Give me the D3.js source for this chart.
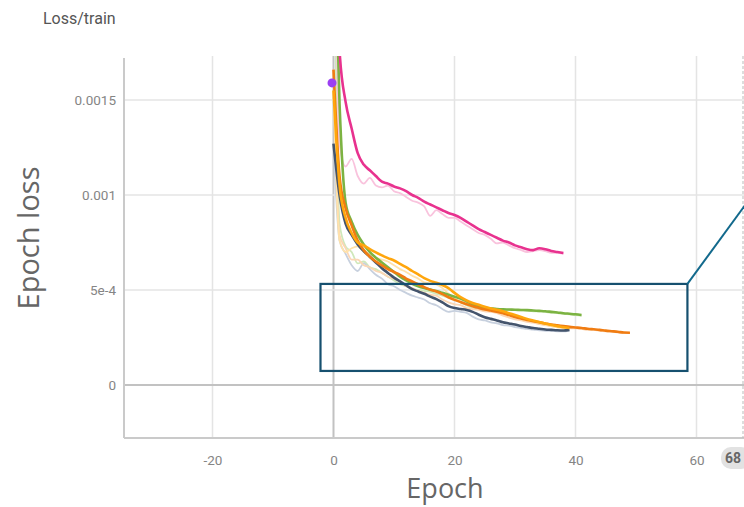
<!DOCTYPE html>
<html>
<head>
<meta charset="utf-8">
<script src="https://cdn.jsdelivr.net/npm/d3@7"></script>
<style>
  body { margin: 0; background: #fff; }
  svg { display: block; font-family: Roboto, "Noto Sans", sans-serif; }
  .grid { stroke: #e4e4e4; stroke-width: 1.5; }
  .zero { stroke: #c2c2c2; stroke-width: 2; }
  .frame { stroke: #cacaca; stroke-width: 2; }
  .tick-label { fill: #858585; font-size: 13.5px; }
</style>
</head>
<body>
<div class="container"></div>
<script>
const WIDTH = 744;
const HEIGHT = 507;

// epoch loss, in units of 1e-4, one value per epoch starting at epoch 0
const LOSS_SCALE = 1e-4;

var pinkSmooth = [30.0,17.6,14.9,13.5,12.2,11.6,11.3,11.0,10.7,10.6,10.45,10.35,10.2,10.0,9.85,9.65,9.5,9.35,9.2,9.05,8.95,8.8,8.6,8.4,8.2,8.05,7.9,7.75,7.6,7.5,7.35,7.25,7.15,7.1,7.2,7.15,7.05,7.0,6.95];
var pinkRaw = [30.0,12.7,11.5,11.9,11.0,10.6,10.9,10.5,10.4,10.5,10.2,10.1,9.9,9.7,9.6,9.4,8.9,9.2,9.0,8.8,8.8,8.6,8.4,8.2,8.0,7.9,7.7,7.45,7.5,7.35,7.2,7.1,7.0,7.05,7.1,7.05,6.95,6.95,6.9];

var slateSmooth = [12.7,10.0,8.5,7.9,7.4,7.05,6.75,6.45,6.15,5.9,5.65,5.45,5.25,5.05,4.92,4.8,4.65,4.52,4.35,4.15,4.05,4.0,3.95,3.85,3.7,3.57,3.48,3.4,3.3,3.24,3.18,3.1,3.05,3.0,2.96,2.92,2.9,2.88,2.87,2.9];
var slateRaw = [12.7,7.6,6.9,6.3,6.0,6.4,6.1,5.8,5.6,5.3,5.2,5.0,4.85,4.7,4.6,4.5,4.3,4.2,4.0,3.85,3.9,3.85,3.8,3.6,3.45,3.4,3.3,3.25,3.15,3.12,3.05,3.0,2.95,2.92,2.88,2.85,2.85,2.83,2.82,2.88];

var greenSmooth = [26.0,14.8,9.6,8.6,7.9,7.4,7.0,6.7,6.45,6.2,5.95,5.7,5.5,5.33,5.2,5.1,5.02,4.95,4.85,4.75,4.65,4.55,4.4,4.25,4.12,4.06,4.03,4.0,3.98,3.97,3.96,3.95,3.94,3.92,3.9,3.88,3.85,3.82,3.78,3.75,3.72,3.68];
var greenRaw = [26.0,8.5,7.3,7.0,6.4,6.5,6.2,6.1,5.9,5.7,5.5,5.3,5.2,5.05,5.0,4.95,4.9,4.8,4.7,4.6,4.5,4.35,4.2,4.05,4.0,3.98,3.99,3.95,3.96,3.94,3.95,3.93,3.92,3.88,3.88,3.85,3.8,3.78,3.74,3.72,3.68,3.64];

var orangeSmooth = [16.6,11.0,9.3,8.4,7.6,7.1,6.75,6.5,6.3,6.1,5.95,5.8,5.6,5.45,5.3,5.15,5.02,4.92,4.78,4.62,4.48,4.37,4.25,4.15,4.06,3.98,3.92,3.86,3.78,3.68,3.58,3.5,3.42,3.36,3.3,3.24,3.18,3.14,3.1,3.06,3.03,3.0,2.96,2.93,2.9,2.86,2.83,2.8,2.76,2.75];
var orangeRaw = [16.6,7.9,7.2,6.6,6.6,6.3,6.2,6.0,5.9,5.7,5.6,5.45,5.2,5.1,4.95,4.85,4.75,4.7,4.5,4.35,4.25,4.2,4.05,4.0,3.95,3.88,3.85,3.78,3.65,3.55,3.45,3.4,3.32,3.28,3.2,3.15,3.1,3.08,3.05,3.0,2.98,2.95,2.9,2.9,2.85,2.82,2.8,2.76,2.73,2.74];

var amberSmooth = [15.5,10.5,8.8,8.0,7.5,7.35,7.15,6.98,6.82,6.68,6.55,6.38,6.2,6.0,5.82,5.62,5.48,5.38,5.26,5.1,4.85,4.62,4.45,4.32,4.22,4.12,4.03,3.96,3.88,3.78,3.68,3.58,3.48,3.4,3.32,3.24,3.16,3.1,3.04,3.0];
var amberRaw = [15.5,7.6,7.0,7.2,7.3,7.0,6.9,6.7,6.6,6.5,6.3,6.1,5.95,5.75,5.6,5.4,5.35,5.3,5.1,4.8,4.55,4.4,4.3,4.2,4.1,4.0,3.95,3.88,3.78,3.68,3.58,3.48,3.4,3.32,3.24,3.16,3.1,3.04,3.0,2.96];

// single-point run at epoch 0
var purplePoint = [15.9];

var yTickValues = [0, 5e-4, 1e-3, 1.5e-3];
var yTickLabels = ["0", "5e-4", "0.001", "0.0015"];
var xTickValues = [-20, 0, 20, 40, 60];
var xTickLabels = ["-20", "0", "20", "40", "60"];

// zoom box annotation, in data units: [epochStart, epochEnd], [lossLow, lossHigh]
var boxEpochs = [-2.15, 58.5];
var boxLoss = [0.74e-4, 5.32e-4];
var leaderEnd = [68, 9.45e-4];

var series = [
	{ raw: greenRaw, smooth: greenSmooth, color: "#7cb342", light: "#cfe8ba" },
	{ raw: slateRaw, smooth: slateSmooth, color: "#44546c", light: "#c7d0de" },
	{ raw: orangeRaw, smooth: orangeSmooth, color: "#f07c12", light: "#fbd6b4" },
	{ raw: amberRaw, smooth: amberSmooth, color: "#ffa60d", light: "#ffe2aa" },
	{ raw: pinkRaw, smooth: pinkSmooth, color: "#e8328f", light: "#f9c3dd" }
];

var translate = function(x, y){
	return "translate(" + x + "," + y + ")";
};

var toPoints = function(values){
	return values.map(function(v, i){ return { epoch: i, loss: v * LOSS_SCALE }; });
};

window.onload = function(){
	var svg = d3.select('.container').append('svg')
		.attr('width', WIDTH)
		.attr('height', HEIGHT);

	var xScale = d3.scaleLinear().domain([-20, 60]).range([212.5, 696.5]);
	var yScale = d3.scaleLinear().domain([0, 1.5e-3]).range([385, 100]);

	var left = 124, right = 744, top = 56, bottom = 438;

	// title
	svg.append('text')
		.attr('x', 43).attr('y', 24)
		.attr('fill', '#555')
		.style('font-size', '16px')
		.text('Loss/train');

	// grid
	var grid = svg.append('g');
	xTickValues.forEach(function(t){
		grid.append('line')
			.attr('class', t === 0 ? 'zero' : 'grid')
			.attr('x1', xScale(t)).attr('x2', xScale(t))
			.attr('y1', top).attr('y2', bottom);
	});
	yTickValues.forEach(function(t){
		grid.append('line')
			.attr('class', t === 0 ? 'zero' : 'grid')
			.attr('x1', left).attr('x2', right)
			.attr('y1', yScale(t)).attr('y2', yScale(t));
	});

	// frame
	svg.append('line').attr('class', 'frame')
		.attr('x1', left).attr('x2', left).attr('y1', top + 2).attr('y2', bottom);
	svg.append('line').attr('class', 'frame')
		.attr('x1', left).attr('x2', right).attr('y1', bottom).attr('y2', bottom);
	svg.append('line')
		.attr('x1', right - 1).attr('x2', right - 1).attr('y1', top).attr('y2', bottom)
		.attr('stroke', '#bbb').attr('stroke-width', 1).attr('stroke-dasharray', '3,2');

	// axes via d3 axis generators
	var yAxis = d3.axisLeft(yScale)
		.tickValues(yTickValues)
		.tickSize(0).tickPadding(8)
		.tickFormat(function(d, i){ return yTickLabels[i]; });
	svg.append('g')
		.attr('transform', translate(left, 0))
		.call(yAxis)
		.call(function(g){ g.select('.domain').remove(); })
		.selectAll('text').attr('class', 'tick-label').attr('dy', '0.35em')
		.style('font-family', 'Roboto, sans-serif');

	var xAxis = d3.axisBottom(xScale)
		.tickValues(xTickValues)
		.tickSize(0).tickPadding(17)
		.tickFormat(function(d, i){ return xTickLabels[i]; });
	svg.append('g')
		.attr('transform', translate(0, bottom))
		.call(xAxis)
		.call(function(g){ g.select('.domain').remove(); })
		.selectAll('text').attr('class', 'tick-label')
		.style('font-family', 'Roboto, sans-serif');

	// clip
	svg.append('clipPath').attr('id', 'plot-clip')
		.append('rect').attr('x', left).attr('y', top).attr('width', right - left).attr('height', bottom - top);

	var plot = svg.append('g').attr('clip-path', 'url(#plot-clip)');

	var line = d3.line()
		.x(function(q){ return xScale(q.epoch); })
		.y(function(q){ return yScale(q.loss); })
		.curve(d3.curveMonotoneX);

	series.forEach(function(s){
		plot.append('path')
			.attr('d', line(toPoints(s.raw)))
			.attr('fill', 'none')
			.attr('stroke', s.light)
			.attr('stroke-width', 1.8);
	});
	series.forEach(function(s){
		plot.append('path')
			.attr('d', line(toPoints(s.smooth)))
			.attr('fill', 'none')
			.attr('stroke', s.color)
			.attr('stroke-width', 2.6)
			.attr('stroke-linejoin', 'round');
	});

	plot.selectAll('.dot')
		.data(toPoints(purplePoint))
		.enter().append('circle')
		.attr('cx', function(q){ return xScale(q.epoch) - 1.5; })
		.attr('cy', function(q){ return yScale(q.loss); })
		.attr('r', 4.5)
		.attr('fill', '#9b3ff2');

	// hover badge on the x axis
	var badge = svg.append('g').attr('transform', translate(721, 447));
	badge.append('rect')
		.attr('width', 30).attr('height', 22).attr('rx', 10)
		.attr('fill', '#e2e2e2');
	badge.append('text')
		.attr('x', 4).attr('y', 16)
		.attr('fill', '#666')
		.style('font-size', '14px').style('font-weight', 'bold')
		.text('68');

	// axis titles
	svg.append('text')
		.attr('x', 445).attr('y', 498)
		.attr('text-anchor', 'middle')
		.attr('fill', '#666')
		.style('font-family', '"Open Sans", sans-serif')
		.style('font-size', '27px')
		.text('Epoch');
	svg.append('text')
		.attr('transform', translate(39, 238) + ' rotate(-90)')
		.attr('text-anchor', 'middle')
		.attr('fill', '#666')
		.style('font-family', '"Open Sans", sans-serif')
		.style('font-size', '29px')
		.text('Epoch loss');

	// zoom box annotation
	svg.append('rect')
		.attr('x', xScale(boxEpochs[0]))
		.attr('y', yScale(boxLoss[1]))
		.attr('width', xScale(boxEpochs[1]) - xScale(boxEpochs[0]))
		.attr('height', yScale(boxLoss[0]) - yScale(boxLoss[1]))
		.attr('fill', 'none')
		.attr('stroke', '#16506f')
		.attr('stroke-width', 2.2);
	svg.append('line')
		.attr('x1', xScale(boxEpochs[1])).attr('y1', yScale(boxLoss[1]))
		.attr('x2', xScale(leaderEnd[0])).attr('y2', yScale(leaderEnd[1]))
		.attr('stroke', '#12698c')
		.attr('stroke-width', 2);
};
</script>
</body>
</html>
